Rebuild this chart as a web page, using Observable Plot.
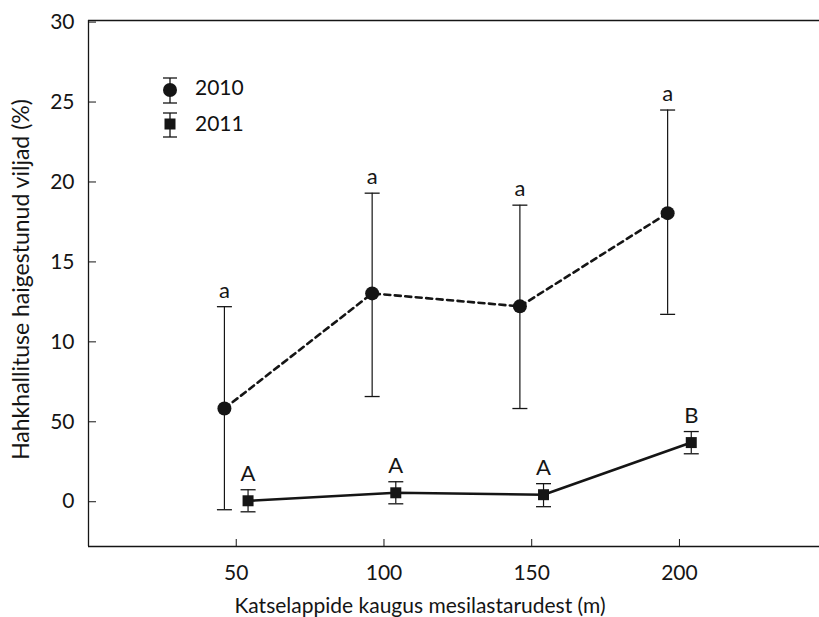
<!DOCTYPE html>
<html>
<head>
<meta charset="utf-8">
<script src="https://cdn.jsdelivr.net/npm/d3@7"></script>
<script src="https://cdn.jsdelivr.net/npm/@observablehq/plot@0.6"></script>
<style>
  html, body { margin: 0; padding: 0; background: #fff; }
  #wrap { position: relative; width: 819px; height: 617px; font-family: Lato, "Noto Sans", sans-serif; }
  #legend { position: absolute; left: 155px; top: 70px; font-size: 21px; color: #111; }
  #legend .row { position: absolute; left: 40px; white-space: nowrap; line-height: 1; }
</style>
</head>
<body>
<div id="wrap"></div>
<script>
// ---- data ----
const distances = [50, 100, 150, 200];
const x2010 = [46, 96, 146, 196];
const mean2010 = [5.83, 13.03, 12.22, 18.05];
const hi2010 = [12.2, 19.3, 18.55, 24.5];
const lo2010 = [-0.5, 6.58, 5.83, 11.72];
const letters2010 = ["a", "a", "a", "a"];

const x2011 = [54, 104, 154, 204];
const mean2011 = [0.06, 0.56, 0.44, 3.7];
const hi2011 = [0.75, 1.25, 1.13, 4.39];
const lo2011 = [-0.63, -0.13, -0.31, 3.0];
const letters2011 = ["A", "A", "A", "B"];

const yTicks = [0, 5, 10, 15, 20, 25, 30];
const yTickLabels = ["0", "50", "10", "15", "20", "25", "30"];
const xTicks = [50, 100, 150, 200];
const xTickLabels = ["50", "100", "150", "200"];
const xDomain = [0, 247.4];
const yDomain = [-2.8, 30.1];
const xTitle = "Katselappide kaugus mesilastarudest (m)";
const yTitle = "Hahkhallituse haigestunud viljad (%)";
const seriesNames = ["2010", "2011"];

// ---- build tables ----
const d2010 = x2010.map((x, i) => ({x, m: mean2010[i], hi: hi2010[i], lo: lo2010[i], t: letters2010[i]}));
const d2011 = x2011.map((x, i) => ({x, m: mean2011[i], hi: hi2011[i], lo: lo2011[i], t: letters2011[i]}));

const cap = { draw(ctx, size) { const w = Math.sqrt(size / Math.PI); ctx.moveTo(-w, 0); ctx.lineTo(w, 0); } };
const ink = "#151515";
const font = "Lato, 'Noto Sans', sans-serif";

const chart = Plot.plot({
  width: 819,
  height: 617,
  marginLeft: 88,
  marginRight: 0,
  marginTop: 20,
  marginBottom: 71,
  style: { fontFamily: font, fontSize: "21px", color: ink, background: "#fff" },
  x: { domain: xDomain },
  y: { domain: yDomain },
  marks: [
    Plot.ruleX([xDomain[0]], { stroke: ink, strokeWidth: 1.3 }),
    Plot.ruleY([yDomain[0]], { stroke: ink, strokeWidth: 1.3 }),
    Plot.ruleY([yDomain[1]], { stroke: ink, strokeWidth: 1.3 }),
    Plot.axisY(yTicks, {
      tickSize: -8, tickPadding: 22, stroke: ink,
      tickFormat: (d) => yTickLabels[yTicks.indexOf(d)],
      fontSize: 21, label: null
    }),
    Plot.axisX(xTicks, {
      tickSize: -7, tickPadding: 26, stroke: ink,
      tickFormat: (d) => xTickLabels[xTicks.indexOf(d)],
      fontSize: 21, label: null
    }),
    Plot.text([xTitle], { frameAnchor: "bottom", textAnchor: "middle", lineAnchor: "middle", dy: 60, dx: -34, fontSize: 21, fill: ink }),
    Plot.text([yTitle], { frameAnchor: "left", textAnchor: "middle", lineAnchor: "middle", rotate: -90, dx: -67, dy: -4, fontSize: 23, fill: ink }),
    // 2010
    Plot.ruleX(d2010, { x: "x", y1: "lo", y2: "hi", stroke: ink, strokeWidth: 1.2 }),
    Plot.dot(d2010, { x: "x", y: "hi", symbol: cap, r: 7.5, stroke: ink, strokeWidth: 1.3 }),
    Plot.dot(d2010, { x: "x", y: "lo", symbol: cap, r: 7.5, stroke: ink, strokeWidth: 1.3 }),
    Plot.line(d2010, { x: "x", y: "m", stroke: ink, strokeWidth: 2.6, strokeDasharray: "6,4.5" }),
    Plot.dot(d2010, { x: "x", y: "m", r: 7, fill: ink, symbol: "circle" }),
    Plot.text(d2010, { x: "x", y: "hi", text: "t", lineAnchor: "bottom", dy: -9, fontSize: 22, fill: ink }),
    // 2011
    Plot.ruleX(d2011, { x: "x", y1: "lo", y2: "hi", stroke: ink, strokeWidth: 1.2 }),
    Plot.dot(d2011, { x: "x", y: "hi", symbol: cap, r: 7.5, stroke: ink, strokeWidth: 1.3 }),
    Plot.dot(d2011, { x: "x", y: "lo", symbol: cap, r: 7.5, stroke: ink, strokeWidth: 1.3 }),
    Plot.line(d2011, { x: "x", y: "m", stroke: ink, strokeWidth: 2.6 }),
    Plot.dot(d2011, { x: "x", y: "m", r: 6.2, fill: ink, symbol: "square" }),
    Plot.text(d2011, { x: "x", y: "hi", text: "t", lineAnchor: "bottom", dy: -9, fontSize: 22, fill: ink })
  ]
});

const wrap = document.getElementById("wrap");
wrap.appendChild(chart);

// legend overlay
const legend = document.createElement("div");
legend.id = "legend";
legend.innerHTML = `
<svg width="30" height="72" style="position:absolute;left:0;top:0;overflow:visible">
  <g stroke="${ink}" stroke-width="1.3" fill="none">
    <line x1="15" y1="8" x2="15" y2="33"/><line x1="8" y1="8" x2="22" y2="8"/><line x1="8" y1="33" x2="22" y2="33"/>
    <line x1="15" y1="43" x2="15" y2="67"/><line x1="8" y1="43" x2="22" y2="43"/><line x1="8" y1="67" x2="22" y2="67"/>
  </g>
  <circle cx="15" cy="20" r="7" fill="${ink}"/>
  <rect x="9.5" y="48.5" width="11" height="11" fill="${ink}"/>
</svg>
<div class="row" style="top:6px">${seriesNames[0]}</div>
<div class="row" style="top:42px">${seriesNames[1]}</div>`;
wrap.appendChild(legend);
</script>
</body>
</html>
